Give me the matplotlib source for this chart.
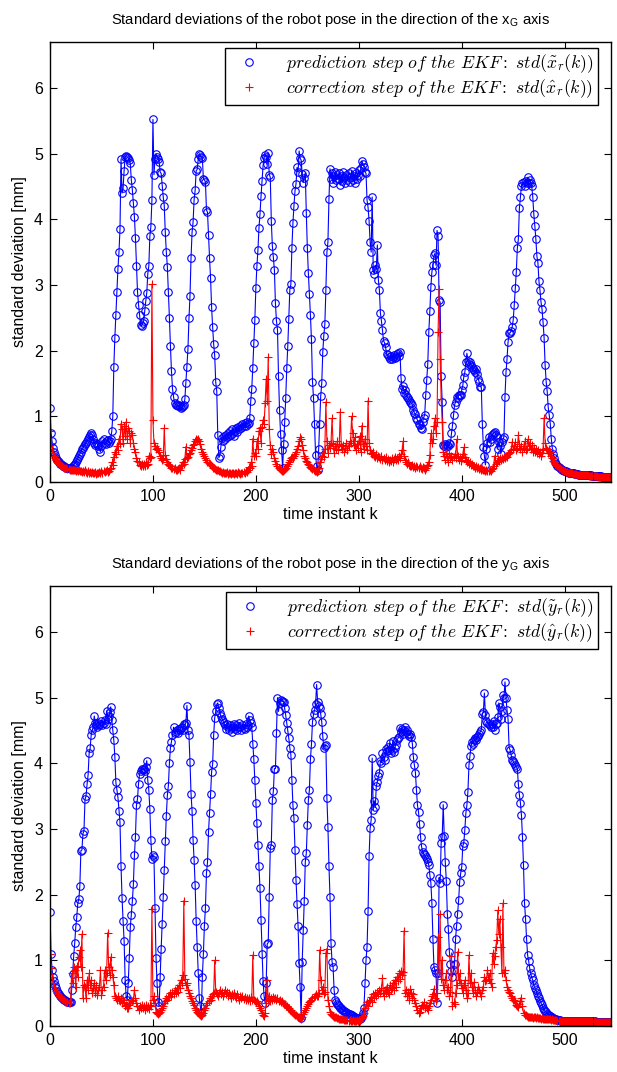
import numpy as np
import matplotlib
matplotlib.use('Agg')
import matplotlib.pyplot as plt
from matplotlib.lines import Line2D

# std of robot pose, x_G direction (prediction / correction), k = 0..545
x_pred = [
    1.12, 0.75, 0.62, 0.52, 0.46, 0.41, 0.37, 0.34, 0.32, 0.30,
    0.28, 0.27, 0.26, 0.25, 0.24, 0.23, 0.22, 0.22, 0.21, 0.21,
    0.21, 0.22, 0.24, 0.26, 0.28, 0.30, 0.33, 0.36, 0.40, 0.43,
    0.46, 0.50, 0.52, 0.55, 0.58, 0.60, 0.63, 0.65, 0.68, 0.72,
    0.74, 0.72, 0.66, 0.60, 0.56, 0.60, 0.58, 0.55, 0.50, 0.46,
    0.55, 0.62, 0.65, 0.60, 0.58, 0.62, 0.64, 0.60, 0.62, 0.66,
    0.77, 1.00, 1.75, 2.20, 2.55, 2.90, 3.25, 3.50, 3.85, 4.92,
    4.40, 4.47, 4.74, 4.95, 4.97, 4.95, 4.93, 4.90, 4.85, 4.60,
    4.45, 4.25, 4.04, 3.72, 3.29, 2.90, 2.70, 2.55, 2.39, 2.38,
    2.42, 2.45, 2.60, 2.75, 2.88, 3.17, 3.29, 3.74, 3.89, 4.29,
    5.52, 4.68, 4.92, 5.00, 4.95, 4.92, 4.88, 4.72, 4.70, 4.51,
    4.34, 4.21, 3.80, 3.50, 3.28, 2.90, 2.50, 2.07, 1.69, 1.42,
    1.30, 1.20, 1.18, 1.17, 1.16, 1.17, 1.15, 1.13, 1.14, 1.16,
    1.18, 1.26, 1.51, 1.75, 2.02, 2.49, 2.83, 3.41, 3.80, 3.96,
    4.30, 4.44, 4.74, 4.76, 4.92, 5.00, 4.98, 4.95, 4.93, 4.62,
    4.60, 4.57, 4.14, 4.11, 3.76, 3.41, 3.10, 2.66, 2.36, 2.10,
    1.93, 1.52, 1.38, 0.71, 0.37, 0.40, 0.53, 0.67, 0.62, 0.70,
    0.66, 0.72, 0.68, 0.75, 0.70, 0.78, 0.72, 0.80, 0.75, 0.70,
    0.78, 0.82, 0.76, 0.84, 0.80, 0.86, 0.82, 0.88, 0.85, 0.90,
    0.86, 0.92, 0.88, 0.90, 0.97, 1.23, 1.42, 1.74, 2.12, 2.47,
    2.96, 3.29, 3.53, 3.87, 4.08, 4.35, 4.59, 4.82, 4.94, 4.98,
    4.95, 4.84, 5.01, 4.68, 4.64, 3.97, 3.60, 3.42, 3.23, 2.72,
    2.45, 2.32, 1.61, 1.09, 0.73, 0.49, 0.21, 0.58, 0.92, 1.28,
    1.73, 2.07, 2.48, 2.93, 3.01, 3.57, 3.94, 4.21, 4.43, 4.54,
    4.79, 4.72, 5.04, 4.93, 4.90, 4.69, 4.56, 4.63, 4.71, 4.09,
    3.57, 3.18, 2.87, 2.54, 2.17, 1.53, 1.28, 0.88, 0.41, 0.25,
    0.18, 0.50, 0.89, 1.31, 1.50, 1.98, 2.23, 2.40, 2.92, 3.50,
    3.65, 4.31, 4.77, 4.62, 4.70, 4.55, 4.66, 4.72, 4.60, 4.68,
    4.62, 4.70, 4.52, 4.66, 4.58, 4.72, 4.64, 4.55, 4.68, 4.60,
    4.70, 4.57, 4.65, 4.74, 4.60, 4.66, 4.55, 4.70, 4.62, 4.68,
    4.75, 4.66, 4.78, 4.89, 4.84, 4.80, 4.72, 4.70, 4.29, 4.18,
    3.97, 3.65, 3.50, 4.34, 3.23, 3.17, 3.30, 3.25, 3.61, 3.08,
    2.92, 2.57, 2.45, 2.31, 2.15, 2.12, 2.05, 1.95, 1.93, 1.90,
    1.88, 1.92, 1.87, 1.90, 1.93, 1.89, 1.91, 1.95, 1.97, 1.92,
    1.98, 1.59, 1.42, 1.46, 1.35, 1.40, 1.32, 1.30, 1.28, 1.25,
    1.22, 1.20, 1.18, 1.10, 1.05, 1.03, 0.98, 0.94, 0.89, 0.87,
    0.82, 0.80, 0.92, 0.98, 1.02, 1.32, 1.55, 1.80, 2.29, 2.60,
    2.97, 3.20, 3.30, 3.45, 3.48, 3.30, 3.83, 3.74, 2.77, 2.74,
    1.61, 1.22, 0.56, 0.55, 0.58, 0.53, 0.57, 0.55, 0.60, 0.58,
    0.74, 0.86, 1.02, 1.17, 1.22, 1.30, 1.28, 1.32, 1.33, 1.32,
    1.40, 1.47, 1.60, 1.67, 1.83, 1.96, 1.85, 1.80, 1.83, 1.78,
    1.75, 1.72, 1.70, 1.68, 1.72, 1.65, 1.57, 1.52, 1.45, 1.45,
    0.89, 0.54, 0.40, 0.26, 0.51, 0.60, 0.69, 0.61, 0.65, 0.71,
    0.73, 0.75, 0.76, 0.72, 0.69, 0.51, 0.61, 0.55, 0.43, 0.61,
    0.65, 0.69, 1.30, 1.67, 1.88, 2.13, 2.27, 2.27, 2.30, 2.36,
    2.47, 2.69, 2.95, 3.20, 3.56, 3.70, 4.17, 4.34, 4.51, 4.56,
    4.57, 4.51, 4.59, 4.55, 4.64, 4.55, 4.60, 4.55, 4.50, 4.34,
    4.08, 3.90, 3.70, 3.44, 3.34, 3.06, 2.92, 2.74, 2.63, 2.43,
    2.20, 1.78, 1.53, 1.38, 1.14, 1.02, 0.89, 0.66, 0.51, 0.42,
    0.36, 0.30, 0.27, 0.25, 0.23, 0.21, 0.20, 0.19, 0.18, 0.17,
    0.16, 0.16, 0.15, 0.15, 0.14, 0.14, 0.14, 0.13, 0.13, 0.13,
    0.12, 0.12, 0.12, 0.12, 0.11, 0.11, 0.11, 0.11, 0.11, 0.10,
    0.10, 0.10, 0.10, 0.10, 0.10, 0.10, 0.10, 0.09, 0.09, 0.09,
    0.09, 0.09, 0.09, 0.09, 0.09, 0.09, 0.08, 0.08, 0.08, 0.08,
    0.08, 0.08, 0.08, 0.07, 0.07, 0.07,
]

x_corr = [
    0.78, 0.60, 0.50, 0.44, 0.40, 0.36, 0.33, 0.31, 0.29, 0.27,
    0.26, 0.25, 0.24, 0.23, 0.22, 0.21, 0.21, 0.20, 0.20, 0.19,
    0.19, 0.19, 0.18, 0.19, 0.18, 0.17, 0.19, 0.17, 0.18, 0.16,
    0.17, 0.15, 0.16, 0.15, 0.18, 0.15, 0.14, 0.16, 0.14, 0.15,
    0.13, 0.15, 0.14, 0.13, 0.15, 0.12, 0.14, 0.13, 0.15, 0.14,
    0.16, 0.14, 0.17, 0.15, 0.16, 0.18, 0.15, 0.17, 0.20, 0.22,
    0.30, 0.26, 0.38, 0.46, 0.42, 0.55, 0.48, 0.66, 0.58, 0.89,
    0.80, 0.60, 0.85, 0.70, 0.92, 0.65, 0.82, 0.78, 0.60, 0.75,
    0.72, 0.59, 0.50, 0.45, 0.36, 0.32, 0.30, 0.26, 0.24, 0.27,
    0.25, 0.28, 0.24, 0.30, 0.26, 0.28, 0.40, 0.36, 0.38, 3.01,
    0.94, 0.59, 0.55, 0.50, 0.52, 0.48, 0.45, 0.40, 0.36, 0.33,
    0.35, 0.82, 0.41, 0.35, 0.31, 0.28, 0.26, 0.24, 0.21, 0.22,
    0.20, 0.22, 0.19, 0.18, 0.20, 0.22, 0.18, 0.24, 0.26, 0.31,
    0.28, 0.35, 0.54, 0.36, 0.38, 0.42, 0.44, 0.48, 0.52, 0.56,
    0.58, 0.62, 0.66, 0.64, 0.66, 0.62, 0.58, 0.51, 0.46, 0.42,
    0.39, 0.36, 0.33, 0.31, 0.29, 0.27, 0.26, 0.24, 0.22, 0.21,
    0.20, 0.19, 0.18, 0.18, 0.17, 0.16, 0.15, 0.14, 0.15, 0.13,
    0.14, 0.13, 0.15, 0.12, 0.14, 0.13, 0.12, 0.14, 0.13, 0.12,
    0.14, 0.13, 0.12, 0.15, 0.13, 0.12, 0.14, 0.13, 0.15, 0.14,
    0.16, 0.15, 0.18, 0.23, 0.22, 0.30, 0.25, 0.66, 0.40, 0.44,
    0.40, 0.62, 0.50, 0.78, 0.82, 0.60, 0.84, 0.95, 0.89, 1.20,
    1.57, 1.24, 1.90, 0.80, 0.56, 0.42, 0.51, 0.45, 0.36, 0.32,
    0.28, 0.25, 0.22, 0.20, 0.18, 0.17, 0.16, 0.18, 0.20, 0.22,
    0.25, 0.28, 0.30, 0.33, 0.36, 0.38, 0.36, 0.40, 0.42, 0.45,
    0.50, 0.55, 0.62, 0.68, 0.66, 0.56, 0.48, 0.40, 0.36, 0.32,
    0.30, 0.28, 0.26, 0.23, 0.21, 0.20, 0.18, 0.17, 0.16, 0.15,
    0.16, 0.22, 0.30, 0.35, 0.40, 0.44, 0.38, 0.50, 1.22, 0.62,
    0.44, 0.56, 0.52, 0.60, 0.97, 0.58, 0.44, 0.55, 0.50, 0.62,
    0.48, 0.58, 1.07, 0.55, 0.50, 0.56, 0.45, 0.52, 0.60, 0.48,
    0.55, 0.62, 0.60, 1.00, 0.75, 0.56, 0.68, 0.48, 0.58, 0.52,
    0.62, 0.70, 0.45, 0.86, 0.58, 0.50, 0.66, 0.55, 0.48, 1.24,
    0.60, 0.48, 0.44, 0.42, 0.46, 0.40, 0.38, 0.42, 0.36, 0.40,
    0.38, 0.35, 0.40, 0.33, 0.36, 0.34, 0.38, 0.32, 0.35, 0.30,
    0.34, 0.32, 0.36, 0.31, 0.35, 0.38, 0.33, 0.36, 0.34, 0.40,
    0.37, 0.42, 0.48, 0.62, 0.40, 0.34, 0.30, 0.28, 0.30, 0.26,
    0.25, 0.24, 0.26, 0.23, 0.24, 0.22, 0.25, 0.23, 0.21, 0.24,
    0.22, 0.20, 0.23, 0.21, 0.19, 0.22, 0.24, 0.26, 0.30, 0.41,
    0.74, 0.60, 0.66, 0.85, 0.97, 0.75, 0.92, 2.28, 2.94, 1.88,
    1.27, 0.91, 0.46, 0.40, 0.34, 0.42, 0.38, 0.30, 0.44, 0.36,
    0.40, 0.33, 0.38, 0.42, 0.36, 0.65, 0.40, 0.34, 0.38, 0.32,
    0.36, 0.42, 0.53, 0.38, 0.34, 0.30, 0.32, 0.28, 0.30, 0.26,
    0.27, 0.24, 0.25, 0.22, 0.24, 0.21, 0.23, 0.20, 0.22, 0.19,
    0.20, 0.18, 0.19, 0.17, 0.18, 0.16, 0.17, 0.18, 0.16, 0.20,
    0.22, 0.25, 0.40, 0.28, 0.30, 0.34, 0.32, 0.36, 0.33, 0.36,
    0.35, 0.38, 0.36, 0.40, 0.38, 0.42, 0.44, 0.46, 0.48, 0.61,
    0.50, 0.55, 0.61, 0.48, 0.52, 0.71, 0.58, 0.50, 0.55, 0.46,
    0.52, 0.62, 0.48, 0.50, 0.65, 0.55, 0.60, 0.50, 0.56, 0.46,
    0.52, 0.45, 0.50, 0.44, 0.48, 0.42, 0.46, 0.40, 0.44, 0.50,
    0.98, 0.60, 0.52, 0.48, 0.44, 0.50, 0.46, 0.40, 0.36, 0.32,
    0.30, 0.28, 0.26, 0.24, 0.22, 0.21, 0.20, 0.19, 0.18, 0.17,
    0.16, 0.15, 0.15, 0.14, 0.14, 0.13, 0.13, 0.13, 0.12, 0.12,
    0.12, 0.12, 0.11, 0.11, 0.11, 0.11, 0.11, 0.10, 0.10, 0.10,
    0.10, 0.10, 0.10, 0.10, 0.09, 0.09, 0.09, 0.09, 0.09, 0.09,
    0.09, 0.09, 0.08, 0.08, 0.08, 0.08, 0.08, 0.08, 0.08, 0.08,
    0.07, 0.07, 0.07, 0.07, 0.07, 0.07,
]

# std of robot pose, y_G direction
y_pred = [
    1.74, 1.09, 0.86, 0.75, 0.68, 0.62, 0.58, 0.54, 0.51, 0.48,
    0.46, 0.44, 0.42, 0.41, 0.40, 0.39, 0.38, 0.37, 0.36, 0.36,
    0.36, 0.55, 0.79, 1.06, 1.26, 1.50, 1.66, 1.87, 1.93, 2.13,
    2.67, 2.68, 2.93, 2.97, 3.45, 3.50, 3.68, 3.82, 4.15, 4.23,
    4.43, 4.50, 4.56, 4.72, 4.62, 4.58, 4.55, 4.62, 4.58, 4.60,
    4.64, 4.58, 4.62, 4.66, 4.60, 4.80, 4.68, 4.72, 4.78, 4.86,
    4.66, 4.50, 4.35, 4.10, 3.71, 3.60, 3.48, 3.28, 3.10, 2.43,
    1.95, 1.60, 1.30, 0.70, 0.45, 0.40, 0.65, 1.04, 1.50, 1.69,
    1.90, 2.16, 2.60, 2.88, 3.36, 3.46, 3.69, 3.84, 3.88, 3.92,
    3.90, 3.92, 3.88, 3.95, 4.04, 3.74, 3.59, 3.30, 2.83, 2.55,
    2.60, 2.57, 1.80, 1.04, 0.65, 0.37, 0.30, 0.74, 1.18, 1.56,
    1.97, 2.38, 2.81, 3.20, 3.51, 3.66, 4.00, 4.24, 4.33, 4.43,
    4.55, 4.46, 4.48, 4.50, 4.46, 4.52, 4.50, 4.54, 4.56, 4.50,
    4.60, 4.58, 4.62, 4.88, 4.50, 4.43, 4.02, 3.54, 3.28, 2.83,
    2.53, 2.15, 1.60, 1.20, 0.81, 0.43, 0.30, 0.20, 0.75, 1.10,
    1.53, 1.80, 2.33, 2.49, 2.96, 3.24, 3.53, 3.87, 3.99, 4.43,
    4.69, 4.80, 4.90, 4.92, 4.84, 4.77, 4.72, 4.68, 4.65, 4.61,
    4.58, 4.52, 4.60, 4.55, 4.50, 4.58, 4.54, 4.48, 4.56, 4.60,
    4.52, 4.58, 4.50, 4.56, 4.62, 4.55, 4.50, 4.58, 4.54, 4.52,
    4.60, 4.55, 4.58, 4.72, 4.66, 4.62, 4.55, 4.30, 4.07, 3.74,
    3.40, 3.09, 2.75, 2.43, 2.10, 1.61, 1.10, 0.68, 0.45, 0.35,
    0.65, 1.25, 1.27, 1.96, 2.71, 2.76, 3.44, 3.58, 3.92, 3.92,
    4.46, 5.00, 4.79, 4.92, 4.97, 4.95, 4.94, 4.94, 4.84, 4.73,
    4.61, 4.50, 4.38, 4.23, 4.13, 3.74, 3.36, 3.16, 2.68, 2.22,
    1.86, 1.52, 0.96, 0.60, 0.12, 0.98, 1.46, 1.90, 2.50, 2.63,
    3.06, 3.44, 3.60, 4.06, 4.29, 4.63, 4.75, 4.81, 4.90, 5.20,
    4.94, 4.87, 4.84, 4.75, 4.63, 4.41, 4.23, 4.27, 4.28, 3.47,
    3.03, 2.44, 1.97, 1.26, 0.98, 0.90, 0.55, 0.40, 0.36, 0.34,
    0.32, 0.30, 0.28, 0.27, 0.25, 0.24, 0.23, 0.22, 0.21, 0.20,
    0.19, 0.18, 0.17, 0.16, 0.15, 0.14, 0.13, 0.12, 0.12, 0.11,
    0.11, 0.10, 0.12, 0.15, 0.20, 0.27, 0.65, 1.00, 1.21, 1.75,
    2.59, 3.01, 3.14, 4.08, 3.29, 3.43, 3.33, 3.65, 3.72, 3.80,
    3.85, 4.04, 4.01, 4.16, 4.10, 4.05, 4.22, 4.18, 4.25, 4.20,
    4.31, 4.15, 4.20, 4.34, 4.17, 4.24, 4.28, 4.35, 4.38, 4.40,
    4.54, 4.48, 4.53, 4.45, 4.50, 4.55, 4.48, 4.50, 4.45, 4.42,
    4.45, 4.40, 4.30, 4.10, 3.97, 3.86, 3.59, 3.36, 3.26, 3.08,
    2.88, 2.73, 2.65, 2.62, 2.60, 2.57, 2.55, 2.50, 2.45, 2.30,
    2.18, 1.87, 1.33, 0.90, 0.85, 0.80, 0.35, 0.80, 2.26, 2.17,
    2.79, 2.88, 3.37, 2.89, 2.50, 2.21, 1.71, 1.47, 1.13, 0.95,
    0.83, 0.75, 0.85, 0.95, 1.33, 1.52, 1.70, 1.92, 2.20, 2.33,
    2.42, 2.74, 2.79, 2.99, 3.24, 3.36, 3.57, 3.97, 4.11, 4.26,
    4.33, 4.30, 4.35, 4.38, 4.36, 4.40, 4.42, 4.45, 4.48, 4.51,
    4.75, 4.78, 5.07, 4.73, 4.65, 4.62, 4.60, 4.58, 4.55, 4.60,
    4.56, 4.65, 4.50, 4.60, 4.62, 4.70, 4.92, 4.86, 4.67, 4.80,
    5.04, 5.00, 5.24, 4.99, 4.81, 4.67, 4.24, 4.20, 4.13, 4.05,
    4.03, 4.00, 3.98, 3.95, 3.92, 3.68, 3.52, 3.40, 3.21, 2.88,
    2.45, 1.87, 1.63, 1.32, 1.08, 0.99, 0.88, 0.80, 0.74, 0.70,
    0.62, 0.58, 0.55, 0.50, 0.45, 0.42, 0.38, 0.35, 0.32, 0.28,
    0.25, 0.23, 0.21, 0.19, 0.17, 0.16, 0.15, 0.14, 0.13, 0.12,
    0.11, 0.10, 0.10, 0.09, 0.09, 0.09, 0.08, 0.08, 0.08, 0.08,
    0.07, 0.07, 0.07, 0.07, 0.07, 0.07, 0.07, 0.07, 0.07, 0.07,
    0.07, 0.07, 0.07, 0.07, 0.07, 0.07, 0.07, 0.07, 0.07, 0.07,
    0.07, 0.07, 0.07, 0.07, 0.07, 0.07, 0.07, 0.07, 0.07, 0.07,
    0.06, 0.06, 0.06, 0.06, 0.06, 0.06, 0.06, 0.06, 0.06, 0.06,
    0.06, 0.06, 0.06, 0.06, 0.06, 0.06,
]

y_corr = [
    1.09, 0.88, 0.75, 0.66, 0.60, 0.56, 0.53, 0.50, 0.48, 0.46,
    0.44, 0.42, 0.41, 0.40, 0.39, 0.38, 0.37, 0.36, 0.35, 0.35,
    0.38, 0.80, 0.65, 0.90, 0.85, 0.60, 0.92, 0.75, 1.05, 1.15,
    0.90, 1.40, 0.42, 0.63, 0.60, 0.42, 0.70, 0.55, 0.80, 0.62,
    0.70, 0.50, 0.58, 0.66, 0.50, 0.62, 0.47, 0.55, 0.60, 0.85,
    0.47, 0.55, 0.60, 0.85, 0.70, 0.80, 1.42, 0.90, 0.78, 1.05,
    0.85, 0.75, 0.63, 0.45, 0.42, 0.40, 0.45, 0.40, 0.38, 0.42,
    0.35, 0.40, 0.36, 0.30, 0.32, 0.28, 0.28, 0.32, 0.35, 0.40,
    0.38, 0.40, 0.55, 0.42, 0.35, 0.30, 0.25, 0.30, 0.28, 0.32,
    0.28, 0.30, 0.25, 0.32, 0.28, 0.30, 0.26, 0.32, 0.30, 1.78,
    0.40, 0.45, 0.35, 0.22, 0.20, 0.18, 0.20, 0.22, 0.25, 0.28,
    0.30, 0.35, 0.38, 0.42, 0.40, 0.46, 0.44, 0.50, 0.45, 0.52,
    0.48, 0.55, 0.50, 0.58, 0.52, 0.62, 0.58, 0.70, 0.65, 0.78,
    1.91, 0.72, 0.62, 0.66, 0.55, 0.50, 0.45, 0.42, 0.38, 0.35,
    0.32, 0.28, 0.25, 0.22, 0.20, 0.18, 0.16, 0.15, 0.16, 0.20,
    0.25, 0.28, 0.32, 0.35, 0.38, 0.42, 0.40, 0.45, 0.48, 0.50,
    1.00, 0.52, 0.48, 0.45, 0.50, 0.55, 0.48, 0.52, 0.46, 0.50,
    0.55, 0.48, 0.52, 0.45, 0.50, 0.47, 0.43, 0.48, 0.45, 0.50,
    0.46, 0.42, 0.48, 0.44, 0.40, 0.46, 0.42, 0.45, 0.41, 0.44,
    0.40, 0.43, 0.39, 0.42, 0.38, 0.44, 0.40, 1.08, 0.40, 0.38,
    0.36, 0.38, 0.35, 0.30, 0.28, 0.25, 0.20, 0.17, 0.15, 0.20,
    0.35, 0.70, 0.40, 0.45, 0.38, 0.42, 0.40, 0.44, 0.41, 0.43,
    0.40, 0.42, 0.38, 0.40, 0.36, 0.38, 0.35, 0.33, 0.34, 0.31,
    0.30, 0.28, 0.27, 0.25, 0.24, 0.22, 0.20, 0.19, 0.17, 0.16,
    0.15, 0.14, 0.13, 0.12, 0.11, 0.14, 0.18, 0.22, 0.25, 0.28,
    0.30, 0.33, 0.36, 0.38, 0.40, 0.42, 0.44, 0.45, 0.48, 0.46,
    0.46, 0.50, 1.16, 0.70, 0.55, 0.60, 0.48, 0.52, 1.11, 1.18,
    0.40, 0.30, 0.22, 0.18, 0.16, 0.15, 0.14, 0.13, 0.13, 0.12,
    0.12, 0.11, 0.11, 0.10, 0.10, 0.10, 0.09, 0.09, 0.09, 0.09,
    0.08, 0.09, 0.08, 0.08, 0.09, 0.08, 0.08, 0.08, 0.09, 0.08,
    0.09, 0.08, 0.10, 0.12, 0.15, 0.20, 0.28, 0.32, 0.36, 0.30,
    0.38, 0.40, 0.44, 0.36, 0.48, 0.42, 0.50, 0.45, 0.52, 0.48,
    0.55, 0.50, 0.58, 0.73, 0.46, 0.55, 0.50, 0.60, 0.52, 0.48,
    0.62, 0.55, 0.58, 0.66, 0.55, 0.70, 0.60, 0.75, 0.68, 0.80,
    0.72, 0.84, 0.78, 0.82, 1.45, 0.50, 0.55, 0.46, 0.52, 0.40,
    0.56, 0.50, 0.42, 0.48, 0.40, 0.35, 0.30, 0.25, 0.20, 0.22,
    0.28, 0.32, 0.30, 0.36, 0.28, 0.32, 0.27, 0.25, 0.30, 0.35,
    0.40, 0.45, 0.48, 0.57, 0.42, 0.38, 0.50, 1.36, 0.80, 1.70,
    0.71, 1.01, 0.62, 0.55, 0.70, 0.80, 0.55, 0.60, 0.45, 0.52,
    1.06, 0.30, 0.36, 0.33, 0.50, 0.62, 1.13, 0.70, 0.80, 0.65,
    0.58, 0.50, 0.62, 0.70, 0.55, 0.43, 0.50, 1.08, 0.65, 0.80,
    0.60, 0.50, 0.67, 0.55, 0.45, 0.52, 0.60, 0.55, 0.50, 0.45,
    0.55, 0.60, 0.75, 0.68, 0.70, 0.85, 0.72, 0.80, 0.66, 0.60,
    1.11, 0.95, 1.06, 1.20, 1.31, 1.76, 1.40, 1.63, 1.20, 0.80,
    1.87, 0.80, 0.85, 0.70, 0.60, 0.55, 0.52, 0.50, 0.46, 0.42,
    0.40, 0.40, 0.38, 0.32, 0.30, 0.29, 0.34, 0.38, 0.42, 0.30,
    0.20, 0.17, 0.16, 0.15, 0.14, 0.14, 0.13, 0.13, 0.13, 0.12,
    0.13, 0.13, 0.12, 0.13, 0.12, 0.12, 0.12, 0.11, 0.12, 0.11,
    0.11, 0.11, 0.10, 0.11, 0.10, 0.10, 0.10, 0.09, 0.10, 0.09,
    0.09, 0.09, 0.09, 0.08, 0.08, 0.08, 0.08, 0.08, 0.08, 0.08,
    0.07, 0.07, 0.07, 0.07, 0.07, 0.07, 0.07, 0.07, 0.07, 0.07,
    0.07, 0.07, 0.07, 0.07, 0.07, 0.07, 0.07, 0.07, 0.07, 0.07,
    0.07, 0.07, 0.07, 0.07, 0.07, 0.07, 0.07, 0.07, 0.07, 0.07,
    0.06, 0.06, 0.06, 0.06, 0.06, 0.06, 0.06, 0.06, 0.06, 0.06,
    0.06, 0.06, 0.06, 0.06, 0.06, 0.06,
]

xticks = [0, 100, 200, 300, 400, 500]
yticks = [0, 1, 2, 3, 4, 5, 6]

plt.rcParams['font.family'] = ['Liberation Sans', 'DejaVu Sans']
plt.rcParams['mathtext.fontset'] = 'cm'

assert len(x_pred) == len(x_corr) == len(y_pred) == len(y_corr) == 546, \
    (len(x_pred), len(x_corr), len(y_pred), len(y_corr))


def draw(ax, pred, corr, title, lab_p, lab_c):
    k = np.arange(len(pred))
    ax.plot(k, pred, color='b', lw=0.8, marker='o', ms=5.4, mfc='none', mew=0.8)
    ax.plot(k, corr, color='r', lw=0.8, marker='+', ms=6, mew=0.8)
    ax.set_xlim(0, 545)
    ax.set_ylim(0, 6.7)
    ax.set_xticks(xticks)
    ax.set_yticks(yticks)
    ax.tick_params(direction='in', top=True, right=True, length=5, width=0.8,
                   labelsize=11.5, pad=5)
    for s in ax.spines.values():
        s.set_linewidth(1.0)
    ax.set_xlabel('time instant k', fontsize=11.5, labelpad=2)
    ax.set_ylabel('standard deviation [mm]', fontsize=11.5, labelpad=5)
    ax.set_title(title, fontsize=10.6, pad=13)
    hp = Line2D([], [], color='b', marker='o', ls='none', ms=5.4, mfc='none', mew=0.8)
    hc = Line2D([], [], color='r', marker='+', ls='none', ms=6, mew=0.8)
    leg = ax.legend([hp, hc], [lab_p, lab_c], loc='upper right',
                    bbox_to_anchor=(548 / 561, 434 / 440), borderaxespad=0,
                    fontsize=12.7, fancybox=False, framealpha=1,
                    edgecolor='black', handlelength=2.2, handletextpad=1.0,
                    labelspacing=0.15, borderpad=0.25)
    leg.get_frame().set_linewidth(1.0)


fig = plt.figure(figsize=(6.17, 10.72), dpi=100)
ax1 = fig.add_axes([50 / 617, 590 / 1072, 561 / 617, 440 / 1072])
ax2 = fig.add_axes([50 / 617, 46 / 1072, 561 / 617, 440 / 1072])

draw(ax1, x_pred, x_corr,
     r'Standard deviations of the robot pose in the direction of the x$_\mathregular{G}$ axis',
     r'$prediction\ step\ of\ the\ EKF:\ std(\tilde{x}_r(k))$',
     r'$correction\ step\ of\ the\ EKF:\ std(\hat{x}_r(k))$')
draw(ax2, y_pred, y_corr,
     r'Standard deviations of the robot pose in the direction of the y$_\mathregular{G}$ axis',
     r'$prediction\ step\ of\ the\ EKF:\ std(\tilde{y}_r(k))$',
     r'$correction\ step\ of\ the\ EKF:\ std(\hat{y}_r(k))$')

fig.savefig('out.png', dpi=100)
